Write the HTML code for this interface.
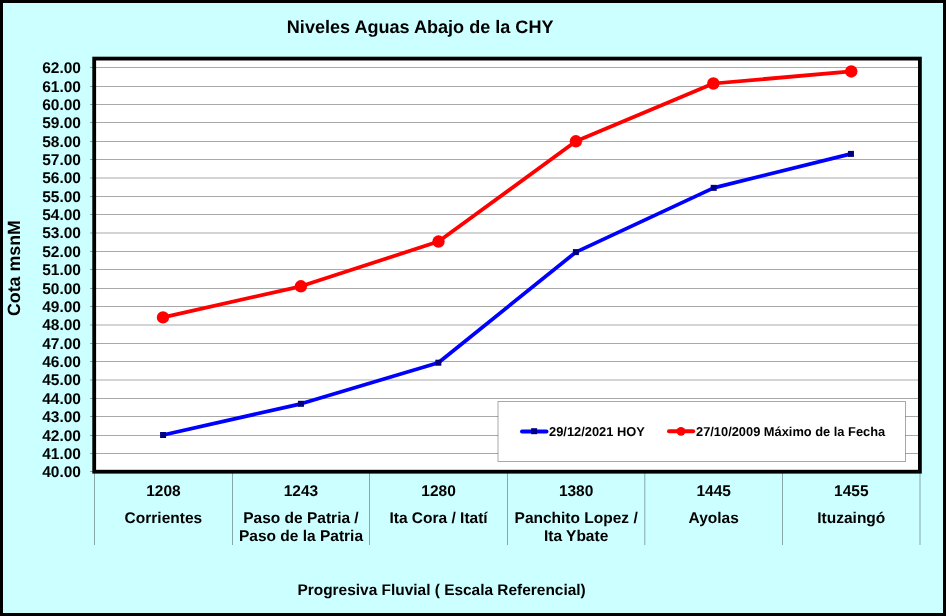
<!DOCTYPE html>
<html><head><meta charset="utf-8"><title>Niveles Aguas Abajo de la CHY</title>
<style>
html,body{margin:0;padding:0;}
body{width:946px;height:616px;overflow:hidden;background:#CCFFFF;font-family:"Liberation Sans", sans-serif;}
svg{position:absolute;left:0;top:0;display:block;will-change:transform;}
text{font-family:"Liberation Sans", sans-serif;font-weight:bold;fill:#000;text-rendering:geometricPrecision;}
</style></head><body>
<svg width="946" height="616" viewBox="0 0 946 616">
<rect x="0" y="0" width="946" height="616" fill="#CCFFFF"/>
<rect x="94.2" y="58.6" width="825.70" height="413.10" fill="#FFFFFF"/>
<line x1="90" y1="471.5" x2="94.2" y2="471.5" stroke="#000" stroke-opacity="0.34" stroke-width="1"/>
<text x="81" y="476.90" font-size="15.5" text-anchor="end">40.00</text>
<line x1="94.2" y1="453.5" x2="919.9" y2="453.5" stroke="#000" stroke-opacity="0.34" stroke-width="1"/>
<line x1="90" y1="453.5" x2="94.2" y2="453.5" stroke="#000" stroke-opacity="0.34" stroke-width="1"/>
<text x="81" y="458.90" font-size="15.5" text-anchor="end">41.00</text>
<line x1="94.2" y1="435.5" x2="919.9" y2="435.5" stroke="#000" stroke-opacity="0.34" stroke-width="1"/>
<line x1="90" y1="435.5" x2="94.2" y2="435.5" stroke="#000" stroke-opacity="0.34" stroke-width="1"/>
<text x="81" y="440.90" font-size="15.5" text-anchor="end">42.00</text>
<line x1="94.2" y1="416.5" x2="919.9" y2="416.5" stroke="#000" stroke-opacity="0.34" stroke-width="1"/>
<line x1="90" y1="416.5" x2="94.2" y2="416.5" stroke="#000" stroke-opacity="0.34" stroke-width="1"/>
<text x="81" y="421.90" font-size="15.5" text-anchor="end">43.00</text>
<line x1="94.2" y1="398.5" x2="919.9" y2="398.5" stroke="#000" stroke-opacity="0.34" stroke-width="1"/>
<line x1="90" y1="398.5" x2="94.2" y2="398.5" stroke="#000" stroke-opacity="0.34" stroke-width="1"/>
<text x="81" y="403.90" font-size="15.5" text-anchor="end">44.00</text>
<line x1="94.2" y1="380.0" x2="919.9" y2="380.0" stroke="#000" stroke-opacity="0.34" stroke-width="1"/>
<line x1="90" y1="380.0" x2="94.2" y2="380.0" stroke="#000" stroke-opacity="0.34" stroke-width="1"/>
<text x="81" y="385.40" font-size="15.5" text-anchor="end">45.00</text>
<line x1="94.2" y1="361.5" x2="919.9" y2="361.5" stroke="#000" stroke-opacity="0.34" stroke-width="1"/>
<line x1="90" y1="361.5" x2="94.2" y2="361.5" stroke="#000" stroke-opacity="0.34" stroke-width="1"/>
<text x="81" y="366.90" font-size="15.5" text-anchor="end">46.00</text>
<line x1="94.2" y1="343.5" x2="919.9" y2="343.5" stroke="#000" stroke-opacity="0.34" stroke-width="1"/>
<line x1="90" y1="343.5" x2="94.2" y2="343.5" stroke="#000" stroke-opacity="0.34" stroke-width="1"/>
<text x="81" y="348.90" font-size="15.5" text-anchor="end">47.00</text>
<line x1="94.2" y1="325.0" x2="919.9" y2="325.0" stroke="#000" stroke-opacity="0.34" stroke-width="1"/>
<line x1="90" y1="325.0" x2="94.2" y2="325.0" stroke="#000" stroke-opacity="0.34" stroke-width="1"/>
<text x="81" y="330.40" font-size="15.5" text-anchor="end">48.00</text>
<line x1="94.2" y1="306.5" x2="919.9" y2="306.5" stroke="#000" stroke-opacity="0.34" stroke-width="1"/>
<line x1="90" y1="306.5" x2="94.2" y2="306.5" stroke="#000" stroke-opacity="0.34" stroke-width="1"/>
<text x="81" y="311.90" font-size="15.5" text-anchor="end">49.00</text>
<line x1="94.2" y1="288.5" x2="919.9" y2="288.5" stroke="#000" stroke-opacity="0.34" stroke-width="1"/>
<line x1="90" y1="288.5" x2="94.2" y2="288.5" stroke="#000" stroke-opacity="0.34" stroke-width="1"/>
<text x="81" y="293.90" font-size="15.5" text-anchor="end">50.00</text>
<line x1="94.2" y1="269.5" x2="919.9" y2="269.5" stroke="#000" stroke-opacity="0.34" stroke-width="1"/>
<line x1="90" y1="269.5" x2="94.2" y2="269.5" stroke="#000" stroke-opacity="0.34" stroke-width="1"/>
<text x="81" y="274.90" font-size="15.5" text-anchor="end">51.00</text>
<line x1="94.2" y1="251.5" x2="919.9" y2="251.5" stroke="#000" stroke-opacity="0.34" stroke-width="1"/>
<line x1="90" y1="251.5" x2="94.2" y2="251.5" stroke="#000" stroke-opacity="0.34" stroke-width="1"/>
<text x="81" y="256.90" font-size="15.5" text-anchor="end">52.00</text>
<line x1="94.2" y1="233.0" x2="919.9" y2="233.0" stroke="#000" stroke-opacity="0.34" stroke-width="1"/>
<line x1="90" y1="233.0" x2="94.2" y2="233.0" stroke="#000" stroke-opacity="0.34" stroke-width="1"/>
<text x="81" y="238.40" font-size="15.5" text-anchor="end">53.00</text>
<line x1="94.2" y1="214.5" x2="919.9" y2="214.5" stroke="#000" stroke-opacity="0.34" stroke-width="1"/>
<line x1="90" y1="214.5" x2="94.2" y2="214.5" stroke="#000" stroke-opacity="0.34" stroke-width="1"/>
<text x="81" y="219.90" font-size="15.5" text-anchor="end">54.00</text>
<line x1="94.2" y1="196.5" x2="919.9" y2="196.5" stroke="#000" stroke-opacity="0.34" stroke-width="1"/>
<line x1="90" y1="196.5" x2="94.2" y2="196.5" stroke="#000" stroke-opacity="0.34" stroke-width="1"/>
<text x="81" y="201.90" font-size="15.5" text-anchor="end">55.00</text>
<line x1="94.2" y1="178.0" x2="919.9" y2="178.0" stroke="#000" stroke-opacity="0.34" stroke-width="1"/>
<line x1="90" y1="178.0" x2="94.2" y2="178.0" stroke="#000" stroke-opacity="0.34" stroke-width="1"/>
<text x="81" y="183.40" font-size="15.5" text-anchor="end">56.00</text>
<line x1="94.2" y1="159.5" x2="919.9" y2="159.5" stroke="#000" stroke-opacity="0.34" stroke-width="1"/>
<line x1="90" y1="159.5" x2="94.2" y2="159.5" stroke="#000" stroke-opacity="0.34" stroke-width="1"/>
<text x="81" y="164.90" font-size="15.5" text-anchor="end">57.00</text>
<line x1="94.2" y1="141.5" x2="919.9" y2="141.5" stroke="#000" stroke-opacity="0.34" stroke-width="1"/>
<line x1="90" y1="141.5" x2="94.2" y2="141.5" stroke="#000" stroke-opacity="0.34" stroke-width="1"/>
<text x="81" y="146.90" font-size="15.5" text-anchor="end">58.00</text>
<line x1="94.2" y1="122.5" x2="919.9" y2="122.5" stroke="#000" stroke-opacity="0.34" stroke-width="1"/>
<line x1="90" y1="122.5" x2="94.2" y2="122.5" stroke="#000" stroke-opacity="0.34" stroke-width="1"/>
<text x="81" y="127.90" font-size="15.5" text-anchor="end">59.00</text>
<line x1="94.2" y1="104.5" x2="919.9" y2="104.5" stroke="#000" stroke-opacity="0.34" stroke-width="1"/>
<line x1="90" y1="104.5" x2="94.2" y2="104.5" stroke="#000" stroke-opacity="0.34" stroke-width="1"/>
<text x="81" y="109.90" font-size="15.5" text-anchor="end">60.00</text>
<line x1="94.2" y1="86.5" x2="919.9" y2="86.5" stroke="#000" stroke-opacity="0.34" stroke-width="1"/>
<line x1="90" y1="86.5" x2="94.2" y2="86.5" stroke="#000" stroke-opacity="0.34" stroke-width="1"/>
<text x="81" y="91.90" font-size="15.5" text-anchor="end">61.00</text>
<line x1="94.2" y1="67.5" x2="919.9" y2="67.5" stroke="#000" stroke-opacity="0.34" stroke-width="1"/>
<line x1="90" y1="67.5" x2="94.2" y2="67.5" stroke="#000" stroke-opacity="0.34" stroke-width="1"/>
<text x="81" y="72.90" font-size="15.5" text-anchor="end">62.00</text>
<line x1="94.5" y1="471.7" x2="94.5" y2="545" stroke="#000" stroke-opacity="0.34" stroke-width="1"/>
<line x1="232.5" y1="471.7" x2="232.5" y2="545" stroke="#000" stroke-opacity="0.34" stroke-width="1"/>
<line x1="369.5" y1="471.7" x2="369.5" y2="545" stroke="#000" stroke-opacity="0.34" stroke-width="1"/>
<line x1="507.5" y1="471.7" x2="507.5" y2="545" stroke="#000" stroke-opacity="0.34" stroke-width="1"/>
<line x1="644.8" y1="471.7" x2="644.8" y2="545" stroke="#000" stroke-opacity="0.34" stroke-width="1"/>
<line x1="782.5" y1="471.7" x2="782.5" y2="545" stroke="#000" stroke-opacity="0.34" stroke-width="1"/>
<line x1="920.0" y1="471.7" x2="920.0" y2="545" stroke="#000" stroke-opacity="0.34" stroke-width="1"/>
<rect x="498" y="401.5" width="407.5" height="60" fill="#FFFFFF" stroke="#000" stroke-opacity="0.34" stroke-width="1"/>
<rect x="94.2" y="58.6" width="825.70" height="413.10" fill="none" stroke="#000" stroke-width="3.8"/>
<polyline points="163.00,317.40 300.90,286.30 438.50,241.55 575.90,141.30 713.35,83.50 851.25,71.45" fill="none" stroke="#FF0000" stroke-width="3.75" stroke-linejoin="round" stroke-linecap="round"/>
<polyline points="163.07,435.00 300.95,403.80 438.35,362.70 575.90,252.10 713.70,187.85 850.95,153.90" fill="none" stroke="#0000FF" stroke-width="3.75" stroke-linejoin="round" stroke-linecap="round"/>
<circle cx="163.00" cy="317.40" r="6.2" fill="#FF0000"/>
<circle cx="300.90" cy="286.30" r="6.2" fill="#FF0000"/>
<circle cx="438.50" cy="241.55" r="6.2" fill="#FF0000"/>
<circle cx="575.90" cy="141.30" r="6.2" fill="#FF0000"/>
<circle cx="713.35" cy="83.50" r="6.2" fill="#FF0000"/>
<circle cx="851.25" cy="71.45" r="6.2" fill="#FF0000"/>
<rect x="160.07" y="432.00" width="6" height="6" fill="#000080"/>
<rect x="297.95" y="400.80" width="6" height="6" fill="#000080"/>
<rect x="435.35" y="359.70" width="6" height="6" fill="#000080"/>
<rect x="572.90" y="249.10" width="6" height="6" fill="#000080"/>
<rect x="710.70" y="184.85" width="6" height="6" fill="#000080"/>
<rect x="847.95" y="150.90" width="6" height="6" fill="#000080"/>
<line x1="522" y1="431.4" x2="546.5" y2="431.4" stroke="#0000FF" stroke-width="4" stroke-linecap="round"/>
<rect x="531.1" y="428.2" width="6" height="6" fill="#000080"/>
<text x="549" y="435.9" font-size="12.88">29/12/2021 HOY</text>
<line x1="669" y1="431.3" x2="693.2" y2="431.3" stroke="#FF0000" stroke-width="4" stroke-linecap="round"/>
<circle cx="681" cy="431.3" r="4.4" fill="#FF0000"/>
<text x="696" y="435.9" font-size="12.85">27/10/2009 Máximo de la Fecha</text>
<text x="420.15" y="32.8" font-size="18.07" text-anchor="middle">Niveles Aguas Abajo de la CHY</text>
<text transform="translate(20.2,268.1) rotate(-90)" x="0" y="0" font-size="17.8" text-anchor="middle">Cota msnM</text>
<text x="441.6" y="595" font-size="15.45" text-anchor="middle">Progresiva Fluvial ( Escala Referencial)</text>
<text x="163.39" y="495.9" font-size="15.5" text-anchor="middle">1208</text>
<text x="163.39" y="522.60" font-size="15.5" text-anchor="middle">Corrientes</text>
<text x="300.97" y="495.9" font-size="15.5" text-anchor="middle">1243</text>
<text x="300.97" y="522.60" font-size="15.5" text-anchor="middle">Paso de Patria /</text>
<text x="300.97" y="541.00" font-size="15.5" text-anchor="middle">Paso de la Patria</text>
<text x="438.55" y="495.9" font-size="15.5" text-anchor="middle">1280</text>
<text x="438.55" y="522.60" font-size="15.5" text-anchor="middle">Ita Cora / Itatí</text>
<text x="576.13" y="495.9" font-size="15.5" text-anchor="middle">1380</text>
<text x="576.13" y="522.60" font-size="15.5" text-anchor="middle">Panchito Lopez /</text>
<text x="576.13" y="541.00" font-size="15.5" text-anchor="middle">Ita Ybate</text>
<text x="713.71" y="495.9" font-size="15.5" text-anchor="middle">1445</text>
<text x="713.71" y="522.60" font-size="15.5" text-anchor="middle">Ayolas</text>
<text x="851.29" y="495.9" font-size="15.5" text-anchor="middle">1455</text>
<text x="851.29" y="522.60" font-size="15.5" text-anchor="middle">Ituzaingó</text>
<rect x="1.5" y="1.5" width="943" height="613" fill="none" stroke="#000" stroke-width="3"/>
</svg>
</body></html>
